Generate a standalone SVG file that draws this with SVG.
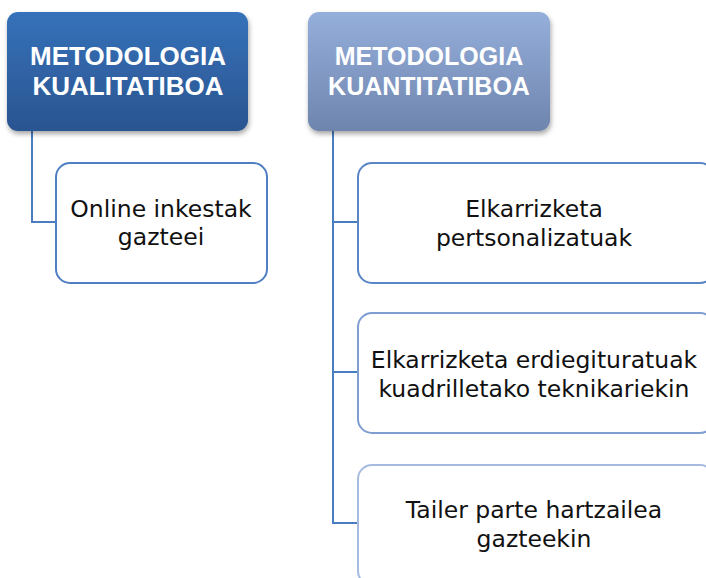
<svg xmlns="http://www.w3.org/2000/svg" width="706" height="578" viewBox="0 0 706 578">
<defs>
<linearGradient id="g1" x1="0" y1="0" x2="0" y2="1"><stop offset="0" stop-color="#3672ba"/><stop offset="1" stop-color="#2a5490"/></linearGradient>
<linearGradient id="g2" x1="0" y1="0" x2="0" y2="1"><stop offset="0" stop-color="#95afdb"/><stop offset="1" stop-color="#6e85ae"/></linearGradient>
<filter id="sh" x="-10%" y="-10%" width="120%" height="130%"><feDropShadow dx="1" dy="3" stdDeviation="2.5" flood-color="#000" flood-opacity="0.35"/></filter>
<style>
.hd{font-family:"Liberation Sans",Arial,sans-serif;font-weight:bold;font-size:26px;fill:#fff;text-anchor:middle}
.hd2{font-size:25px}
.ch{font-family:"DejaVu Sans",sans-serif;font-size:23.5px;fill:#111;text-anchor:middle}
.box{fill:#fff;stroke-width:2}
.con{fill:none;stroke:#4a7cc0;stroke-width:2}
</style>
</defs>
<rect width="706" height="578" fill="#fff"/>
<g id="connectors">
<polyline class="con" points="32,131 32,222 56,222"/>
<polyline class="con" points="333,131 333,523 358,523"/>
<line class="con" x1="333" y1="222" x2="358" y2="222"/>
<line class="con" x1="333" y1="372" x2="358" y2="372"/>
</g>
<g id="head1">
<rect x="7" y="12" width="241" height="119" rx="11" fill="url(#g1)" filter="url(#sh)"/>
<text class="hd" x="128" y="65">METODOLOGIA</text>
<text class="hd" x="128" y="95">KUALITATIBOA</text>
</g>
<g id="head2">
<rect x="308" y="12" width="242" height="119" rx="11" fill="url(#g2)" filter="url(#sh)"/>
<text class="hd hd2" x="429" y="65">METODOLOGIA</text>
<text class="hd hd2" x="429" y="95">KUANTITATIBOA</text>
</g>
<g id="child1">
<rect class="box" x="56" y="163" width="211" height="120" rx="14" stroke="#4f7fc2"/>
<text class="ch" x="161" y="217">Online inkestak</text>
<text class="ch" x="161" y="245">gazteei</text>
</g>
<g id="child2">
<rect class="box" x="358" y="163" width="356" height="120" rx="14" stroke="#5a86c6"/>
<text class="ch" x="534" y="217">Elkarrizketa</text>
<text class="ch" x="534" y="246">pertsonalizatuak</text>
</g>
<g id="child3">
<rect class="box" x="358" y="313" width="356" height="120" rx="14" stroke="#7f9dd0"/>
<text class="ch" x="534" y="368">Elkarrizketa erdiegituratuak</text>
<text class="ch" x="534" y="397">kuadrilletako teknikariekin</text>
</g>
<g id="child4">
<rect class="box" x="358" y="465" width="356" height="120" rx="14" stroke="#a6bbe0"/>
<text class="ch" x="534" y="518">Tailer parte hartzailea</text>
<text class="ch" x="534" y="547">gazteekin</text>
</g>
</svg>
